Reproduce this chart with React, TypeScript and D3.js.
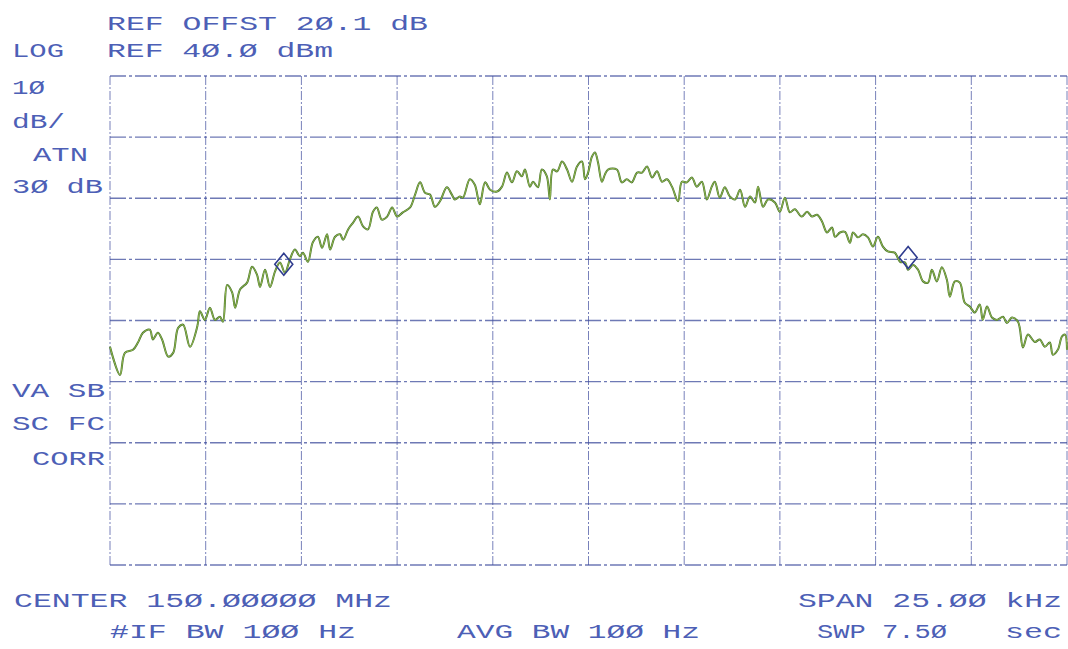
import React, { useEffect, useRef } from "react";
import * as d3 from "d3";

// Frequency offset from center (kHz) and measured level (dBm)
const freqKHz = [
  -12.5, -12.24, -12.11, -11.9, -11.77, -11.64, -11.46, -11.38, -11.25, -11.14,
  -10.98, -10.85, -10.72, -10.59, -10.41, -10.22, -10.15, -10.02, -9.89, -9.76,
  -9.63, -9.55, -9.44, -9.31, -9.23, -9.1, -8.92, -8.79, -8.66, -8.58,
  -8.45, -8.32, -8.19, -8.06, -7.93, -7.8, -7.67, -7.54, -7.46, -7.33,
  -7.2, -7.07, -6.96, -6.83, -6.75, -6.62, -6.49, -6.41, -6.28, -6.15,
  -6.02, -5.89, -5.76, -5.63, -5.53, -5.4, -5.26, -5.13, -5.0, -4.85,
  -4.66, -4.53, -4.4, -4.27, -4.14, -4.01, -3.88, -3.7, -3.57, -3.49,
  -3.36, -3.28, -3.1, -2.97, -2.84, -2.7, -2.57, -2.39, -2.26, -2.13,
  -2.0, -1.87, -1.74, -1.66, -1.53, -1.45, -1.32, -1.22, -1.09, -1.01,
  -0.93, -0.82, -0.69, -0.56, -0.43, -0.3, -0.17, -0.09, -0.01, 0.09,
  0.17, 0.25, 0.35, 0.43, 0.51, 0.74, 0.87, 1.0, 1.13, 1.27,
  1.4, 1.53, 1.66, 1.79, 1.92, 2.05, 2.18, 2.34, 2.44, 2.57,
  2.7, 2.83, 2.96, 3.09, 3.22, 3.3, 3.43, 3.56, 3.69, 3.83,
  3.96, 4.09, 4.22, 4.35, 4.43, 4.56, 4.69, 4.87, 5.0, 5.13,
  5.26, 5.39, 5.57, 5.71, 5.84, 5.97, 6.1, 6.23, 6.36, 6.44,
  6.57, 6.7, 6.83, 6.91, 7.04, 7.17, 7.3, 7.43, 7.56, 7.69,
  7.82, 8.0, 8.14, 8.27, 8.35, 8.48, 8.61, 8.74, 8.87, 8.97,
  9.1, 9.23, 9.36, 9.44, 9.57, 9.7, 9.83, 9.96, 10.09, 10.22,
  10.3, 10.41, 10.54, 10.67, 10.83, 10.93, 11.06, 11.22, 11.35, 11.48,
  11.66, 11.79, 11.92, 12.05, 12.13, 12.26, 12.37, 12.45, 12.5,
];
const levelDbm = [
  -4.3, -8.9, -5.3, -4.8, -3.6, -2.0, -1.5, -3.1, -2.0, -3.1,
  -5.9, -5.3, -1.2, -0.7, -4.3, -1.0, 1.5, 0.1, 2.1, 0.1,
  0.6, -0.2, 5.8, 4.6, 2.1, 5.1, 6.2, 8.8, 7.5, 5.5,
  8.3, 5.5, 8.0, 9.5, 7.8, 10.0, 11.6, 10.5, 11.1, 9.6,
  12.8, 13.7, 11.9, 14.1, 11.6, 13.7, 14.1, 13.2, 14.9, 16.0,
  17.0, 15.4, 14.9, 17.8, 18.5, 16.5, 17.0, 18.5, 17.0, 17.7,
  18.5, 20.6, 22.6, 20.9, 20.6, 18.6, 19.5, 21.8, 20.6, 19.8,
  20.3, 20.1, 23.1, 22.2, 19.0, 22.6, 21.4, 21.1, 21.9, 24.2,
  22.6, 24.4, 23.6, 24.7, 21.9, 22.7, 21.8, 24.7, 23.6, 19.8,
  24.7, 24.4, 26.0, 24.7, 22.7, 25.2, 26.0, 23.1, 24.2, 26.8,
  27.5, 25.8, 22.7, 23.9, 24.7, 24.7, 22.6, 23.1, 22.6, 24.2,
  24.2, 25.2, 23.4, 24.4, 22.7, 23.1, 21.9, 19.5, 22.7, 22.6,
  23.4, 21.9, 22.7, 19.8, 21.9, 22.7, 20.1, 21.8, 20.3, 19.8,
  21.4, 18.6, 20.3, 19.3, 21.9, 18.6, 19.8, 19.3, 17.8, 20.1,
  17.7, 18.2, 17.0, 17.8, 17.0, 17.3, 16.2, 14.4, 15.2, 13.7,
  14.4, 14.5, 12.7, 14.4, 13.6, 14.1, 13.6, 12.1, 13.7, 12.1,
  11.3, 11.1, 9.6, 9.5, 8.3, 9.1, 8.3, 6.4, 6.2, 8.3,
  6.4, 8.7, 6.7, 3.9, 6.4, 6.2, 2.9, 2.3, 1.3, 2.6,
  0.1, 2.3, 0.5, 0.1, 0.6, -0.4, 0.5, -0.2, -4.4, -2.3,
  -3.5, -3.1, -4.3, -3.6, -5.6, -4.8, -2.6, -2.3, -4.8,
];

// Marker positions (kHz offset, dBm)
const markerFreqKHz = [-7.96, 8.35];
const markerDbm = [9.2, 10.3];

// Axis definitions
const refLevelDbm = 40;
const dbPerDiv = 10;
const yDivisions = 8;
const xDivisions = 10;
const spanKHz = 25;

// Annotation texts
const headerTexts = ["REF OFFST 2Ø.1 dB", "LOG", "REF 4Ø.Ø dBm"];
const sideTexts = ["1Ø", "dB/", "ATN", "3Ø dB", "VA SB", "SC FC", "CORR"];
const footerTexts = [
  "CENTER 15Ø.ØØØØØ MHz",
  "SPAN 25.ØØ kHz",
  "#IF BW 1ØØ Hz",
  "AVG BW 1ØØ Hz",
  "SWP 7.5Ø",
  "sec",
];

// layout: [x, baseline, width] per text
const headerLayout = [
  [107, 30, 321],
  [12, 57, 52],
  [107, 57, 226],
];
const sideLayout = [
  [12, 94, 33],
  [12, 128, 53],
  [33, 161, 55],
  [12, 193, 91],
  [12, 397, 93],
  [12, 430, 93],
  [32, 465, 73],
];
const footerLayout = [
  [14, 607, 378],
  [798, 607, 264],
  [110, 638, 246],
  [457, 638, 243],
  [817, 638, 130],
  [1005, 638, 57],
];

const W = 1068;
const H = 649;
const plot = { left: 110, right: 1067, top: 76, bottom: 565 };
const textColor = "#4d5fb6";
const gridColor = "#3e4c9c";

export default function App() {
  const ref = useRef<SVGSVGElement | null>(null);

  useEffect(() => {
    const svg = d3.select(ref.current);
    svg.selectAll("*").remove();

    const x = d3
      .scaleLinear()
      .domain([-spanKHz / 2, spanKHz / 2])
      .range([plot.left, plot.right]);
    const y = d3
      .scaleLinear()
      .domain([refLevelDbm - dbPerDiv * yDivisions, refLevelDbm])
      .range([plot.bottom, plot.top]);

    svg.append("rect").attr("width", W).attr("height", H).attr("fill", "#ffffff");

    const g = svg.append("g");

    // grid
    const xTicks = d3.range(xDivisions + 1).map((i) => -spanKHz / 2 + (i * spanKHz) / xDivisions);
    const yTicks = d3.range(yDivisions + 1).map((i) => refLevelDbm - i * dbPerDiv);

    g.selectAll("line.v")
      .data(xTicks)
      .enter()
      .append("line")
      .attr("x1", (d) => x(d))
      .attr("x2", (d) => x(d))
      .attr("y1", plot.top)
      .attr("y2", plot.bottom)
      .attr("stroke", gridColor)
      .attr("stroke-width", 1)
      .attr("stroke-opacity", 0.7)
      .attr("stroke-dasharray", "9 2 2 2");

    g.selectAll("line.h")
      .data(yTicks)
      .enter()
      .append("line")
      .attr("x1", plot.left)
      .attr("x2", plot.right)
      .attr("y1", (d) => y(d))
      .attr("y2", (d) => y(d))
      .attr("stroke", gridColor)
      .attr("stroke-width", 1.3)
      .attr("stroke-opacity", 0.75)
      .attr("stroke-dasharray", "16 3 3 3");

    // trace
    const pts = freqKHz.map((f, i) => [f, levelDbm[i]] as [number, number]);
    const line = d3
      .line<[number, number]>()
      .x((d) => x(d[0]))
      .y((d) => y(d[1]))
      .curve(d3.curveCatmullRom.alpha(0.5));

    g.append("path")
      .attr("d", line(pts))
      .attr("fill", "none")
      .attr("stroke", "#44702a")
      .attr("stroke-width", 2)
      .attr("stroke-linejoin", "round");
    g.append("path")
      .attr("d", line(pts))
      .attr("fill", "none")
      .attr("stroke", "#a8cc5a")
      .attr("stroke-width", 0.8)
      .attr("stroke-linejoin", "round");

    // markers
    markerFreqKHz.forEach((f, i) => {
      const cx = x(f);
      const cy = y(markerDbm[i]);
      g.append("path")
        .attr("d", `M${cx},${cy - 11}L${cx + 9},${cy}L${cx},${cy + 11}L${cx - 9},${cy}Z`)
        .attr("fill", "none")
        .attr("stroke", "#2f3c8f")
        .attr("stroke-width", 1.6);
    });

    // texts
    const addTexts = (texts: string[], layout: number[][]) => {
      texts.forEach((t, i) => {
        const [tx, ty, tw] = layout[i];
        svg
          .append("text")
          .attr("x", tx)
          .attr("y", ty)
          .attr("textLength", tw)
          .attr("lengthAdjust", "spacingAndGlyphs")
          .attr("font-family", "'Liberation Mono', 'DejaVu Sans Mono', monospace")
          .attr("font-size", 21)
          .attr("fill", textColor)
          .attr("style", "white-space: pre")
          .text(t);
      });
    };
    addTexts(headerTexts, headerLayout);
    addTexts(sideTexts, sideLayout);
    addTexts(footerTexts, footerLayout);
  }, []);

  return (
    <svg
      ref={ref}
      width={W}
      height={H}
      style={{ position: "absolute", left: 0, top: 0, display: "block" }}
    />
  );
}
